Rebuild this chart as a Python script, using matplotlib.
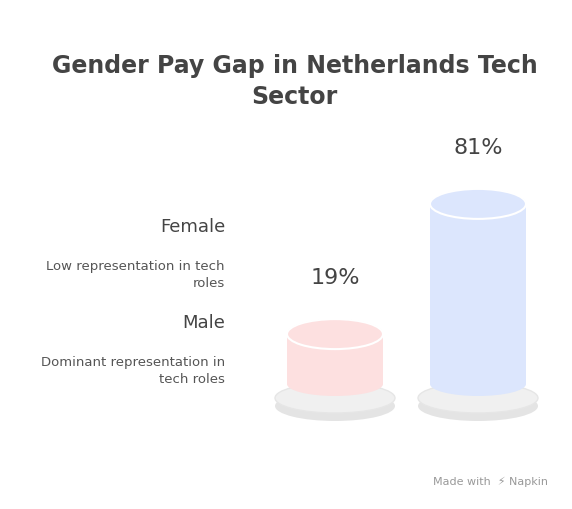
import matplotlib
matplotlib.use("Agg")
import matplotlib.pyplot as plt
from matplotlib.patches import Ellipse, Rectangle

categories = ["Female", "Male"]
descriptions = ["Low representation in tech\nroles", "Dominant representation in\ntech roles"]
values = [19, 81]
labels = ["19%", "81%"]
fills = ["#fde0e0", "#dce6fd"]
edges = ["#f8cccc", "#c9d6fb"]

fig = plt.figure(figsize=(5.72, 5.10), dpi=100)
ax = fig.add_axes([0, 0, 1, 1])
ax.set_xlim(0, 572); ax.set_ylim(510, 0); ax.axis("off")

fig.text(0.515, 0.87, "Gender Pay Gap in Netherlands Tech", ha="center", va="center",
         fontsize=17, fontweight="bold", color="#444444")
fig.text(0.515, 0.81, "Sector", ha="left", va="center", fontsize=17, fontweight="bold",
         color="#444444", transform=fig.transFigure)
fig.texts[-1].set_position((0.44, 0.81))

label_y = [(227, 260), (323, 356)]
for (ty, dy), c, d in zip(label_y, categories, descriptions):
    ax.text(225, ty, c, ha="right", va="center", fontsize=13, color="#444444")
    ax.text(225, dy, d, ha="right", va="top", fontsize=9.5, color="#555555", linespacing=1.4)

centers = [335, 478]
w = 96
bottom = 385
k, b = 2.1, 10
for cx, v, lab, f, e in zip(centers, values, labels, fills, edges):
    # base plate
    ax.add_patch(Ellipse((cx, 407), 120, 30, facecolor="#e4e4e4", edgecolor="none"))
    ax.add_patch(Ellipse((cx, 399), 120, 30, facecolor="#f0f0f0", edgecolor="#e6e6e6"))
    h = b + v * k
    top = bottom - h
    ax.add_patch(Ellipse((cx, bottom), w, 24, facecolor=f, edgecolor="none"))
    ax.add_patch(Rectangle((cx - w / 2, top), w, h, facecolor=f, edgecolor="none"))
    ax.add_patch(Ellipse((cx, top), w, 30, facecolor=f, edgecolor="white", lw=1.5))
    ax.text(cx, top - 57, lab, ha="center", va="center", fontsize=16, color="#444444")

ax.text(548, 482, "Made with  ⚡ Napkin", ha="right", va="center", fontsize=8, color="#999999")
fig.savefig("out.png", dpi=100)
